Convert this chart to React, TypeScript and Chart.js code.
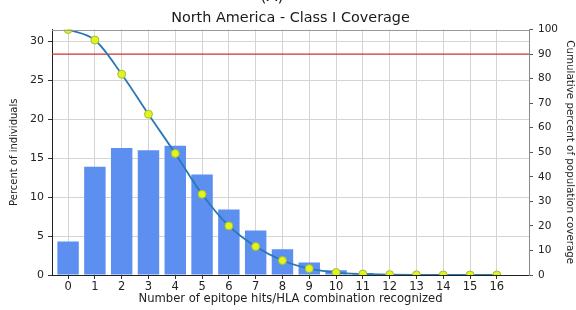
import React, { useEffect, useRef } from "react";
import { Chart, registerables } from "chart.js";

Chart.register(...registerables);

const hits = [0, 1, 2, 3, 4, 5, 6, 7, 8, 9, 10, 11, 12, 13, 14, 15, 16];
const percentIndividuals = [4.3, 13.9, 16.3, 16.0, 16.6, 12.9, 8.4, 5.7, 3.3, 1.6, 0.6, 0.25, 0.1, 0.05, 0, 0, 0];
const cumulativeCoverage = [100, 95.7, 81.8, 65.5, 49.5, 32.9, 20.0, 11.6, 5.9, 2.6, 1.0, 0.4, 0.15, 0.05, 0, 0, 0];
const thresholdValue = 90;
const leftTicks = [0, 5, 10, 15, 20, 25, 30];
const rightTicks = [0, 10, 20, 30, 40, 50, 60, 70, 80, 90, 100];
const xMin = -0.6;
const xMax = 17.2;

const FONT = "'DejaVu Sans', sans-serif";

const decorPlugin = {
  id: "decor",
  afterDraw(chart: any) {
    const ctx = chart.ctx;
    const a = chart.chartArea;
    ctx.save();
    ctx.strokeStyle = "#9a9a9a";
    ctx.lineWidth = 1;
    ctx.beginPath();
    ctx.moveTo(a.left, Math.round(a.top) + 0.5);
    ctx.lineTo(a.right, Math.round(a.top) + 0.5);
    ctx.stroke();
    ctx.fillStyle = "#1a1a1a";
    ctx.font = "14.4px " + FONT;
    ctx.textAlign = "center";
    ctx.textBaseline = "middle";
    ctx.fillText("North America - Class I Coverage", (a.left + a.right) / 2, 18);
    ctx.font = "16px " + FONT;
    ctx.textBaseline = "bottom";
    ctx.fillText("(A)", 272, 5);
    ctx.restore();
  },
};

export default function App() {
  const ref = useRef<HTMLCanvasElement | null>(null);

  useEffect(() => {
    document.body.style.margin = "0";
    const canvas = ref.current;
    if (!canvas) return;

    const barData = hits.map((h, i) => ({ x: h, y: percentIndividuals[i] }));
    const lineData = hits.map((h, i) => ({ x: h, y: cumulativeCoverage[i] }));
    const thresholdData = [
      { x: xMin, y: thresholdValue },
      { x: xMax, y: thresholdValue },
    ];

    const chart = new Chart(canvas, {
      type: "bar",
      data: {
        datasets: [
          {
            type: "line",
            data: lineData as any,
            yAxisID: "y2",
            xAxisID: "x",
            borderColor: "#2b78b5",
            borderWidth: 1.8,
            cubicInterpolationMode: "monotone",
            pointRadius: 4,
            pointBackgroundColor: "#e6f21c",
            pointBorderColor: "#98c23a",
            pointBorderWidth: 1,
            clip: 0,
            order: 0,
          } as any,
          {
            type: "bar",
            data: barData as any,
            yAxisID: "y",
            xAxisID: "x",
            backgroundColor: "#5d8ff0",
            borderWidth: 0,
            barPercentage: 0.8,
            categoryPercentage: 1,
            order: 2,
          } as any,
          {
            type: "line",
            data: thresholdData as any,
            yAxisID: "y2",
            xAxisID: "x",
            borderColor: "#d03030",
            borderWidth: 1.2,
            pointRadius: 0,
            order: 1,
          } as any,
        ],
      },
      options: {
        responsive: false,
        animation: false,
        layout: { padding: { top: 29.5, left: 0, right: 0, bottom: 0 } },
        plugins: {
          legend: { display: false },
          tooltip: { enabled: false },
          title: { display: false },
        },
        scales: {
          x: {
            type: "linear",
            position: "bottom",
            offset: false,
            min: xMin,
            max: xMax,
            afterBuildTicks: (s: any) => {
              s.ticks = hits.map((v) => ({ value: v }));
            },
            afterFit: (s: any) => {
              s.height = 35;
            },
            ticks: {
              color: "#222",
              font: { family: FONT, size: 11.5 },
              padding: 1,
              maxRotation: 0,
              autoSkip: false,
              callback: (v: any) => String(v),
            },
            grid: {
              color: "#d4d4d4",
              lineWidth: 1,
              tickLength: 4,
              tickColor: "#333",
              offset: false,
            },
            border: { color: "#222", width: 1 },
            title: {
              display: true,
              text: "Number of epitope hits/HLA combination recognized",
              color: "#222",
              font: { family: FONT, size: 11.6 },
              padding: { top: 0, bottom: 4 },
            },
          },
          y: {
            type: "linear",
            position: "left",
            min: 0,
            max: 31.5,
            afterBuildTicks: (s: any) => {
              s.ticks = leftTicks.map((v) => ({ value: v }));
            },
            afterFit: (s: any) => {
              s.width = 52;
            },
            ticks: {
              color: "#222",
              font: { family: FONT, size: 11 },
              padding: 4,
            },
            grid: {
              color: "#d4d4d4",
              lineWidth: 1,
              tickLength: 4,
              tickColor: "#333",
            },
            border: { color: "#222", width: 1 },
            title: {
              display: true,
              text: "Percent of individuals",
              color: "#222",
              font: { family: FONT, size: 10 },
              padding: { top: 8, bottom: 0 },
            },
          },
          y2: {
            type: "linear",
            position: "right",
            min: 0,
            max: 100,
            afterBuildTicks: (s: any) => {
              s.ticks = rightTicks.map((v) => ({ value: v }));
            },
            afterFit: (s: any) => {
              s.width = 47;
            },
            ticks: {
              color: "#222",
              font: { family: FONT, size: 10.5 },
              padding: 5,
            },
            grid: {
              drawOnChartArea: false,
              tickLength: 4,
              tickColor: "#555",
            },
            border: { color: "#8a8a8a", width: 1 },
            title: {
              display: true,
              text: "Cumulative percent of population coverage",
              color: "#222",
              font: { family: FONT, size: 10.3 },
              padding: { top: 0, bottom: 0 },
            },
          },
        },
      } as any,
      plugins: [decorPlugin],
    });

    return () => chart.destroy();
  }, []);

  return (
    <div style={{ width: 576, height: 310, background: "#fff" }}>
      <canvas ref={ref} width={576} height={310} style={{ width: 576, height: 310, display: "block" }} />
    </div>
  );
}
